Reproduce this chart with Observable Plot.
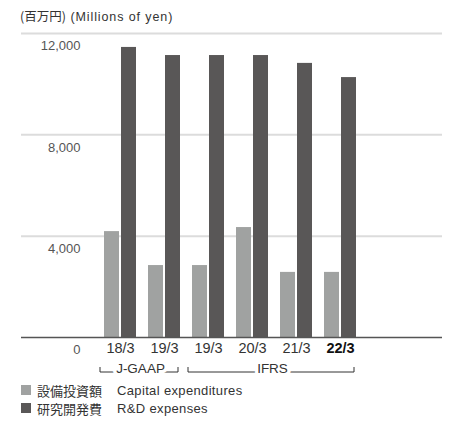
<!DOCTYPE html>
<html><head><meta charset="utf-8">
<script src="https://cdn.jsdelivr.net/npm/d3@7"></script>
<script src="https://cdn.jsdelivr.net/npm/@observablehq/plot@0.6"></script>
<style>
body{margin:0;background:#fff;font-family:"Liberation Sans","Noto Sans CJK JP",sans-serif;color:#333}
#title{height:26px;line-height:31px;padding-left:20px;white-space:nowrap}
#title .tj{font-family:"Noto Sans CJK JP",sans-serif;font-size:12.5px}
#title .te{font-size:12.5px;letter-spacing:0.9px}
#chart svg{display:block}
.row{height:18px;font-size:13px;padding-left:21px;display:flex;align-items:center;white-space:nowrap}
.sw{width:10px;height:10px;margin-right:6px;flex:none}
.jp{width:80px;font-family:"Noto Sans CJK JP",sans-serif}
.en{letter-spacing:0.35px}
</style></head><body>
<div id="title"><span class="tj">(百万円)</span> <span class="te">(Millions of yen)</span></div>
<div id="chart"></div>
<div id="legend"></div>
<script>
// ---- data ----
const keys = ["18/3 J-GAAP", "19/3 J-GAAP", "19/3 IFRS", "20/3 IFRS", "21/3 IFRS", "22/3 IFRS"];
const tickLabels = ["18/3", "19/3", "19/3", "20/3", "21/3", "22/3"];
const capex = [4180, 2840, 2840, 4340, 2570, 2570];
const rnd = [11450, 11130, 11130, 11130, 10820, 10260];
const yTicks = [0, 4000, 8000, 12000];
const seriesJa = ["設備投資額", "研究開発費"];
const seriesEn = ["Capital expenditures", "R&D expenses"];
const seriesColors = ["#a0a2a1", "#595757"];
const standardNames = ["J-GAAP", "IFRS"];
const standardFrom = ["18/3 J-GAAP", "19/3 IFRS"];
const standardTo = ["19/3 J-GAAP", "22/3 IFRS"];

// ---- tables built from arrays ----
const table = keys.map((k, i) => ({key: k, label: tickLabels[i], capex: capex[i], rnd: rnd[i]}));
const standards = standardNames.map((n, i) => {
  const a = keys.indexOf(standardFrom[i]), b = keys.indexOf(standardTo[i]);
  const mid = (a + b) / 2;
  return {name: n, from: standardFrom[i], to: standardTo[i], anchor: keys[Math.floor(mid)]};
});

const xRange = [98, 362];
const step = (xRange[1] - xRange[0]) / keys.length;
const labelFont = "Liberation Sans, Noto Sans CJK JP, sans-serif";

const chart = Plot.plot({
  width: 458,
  height: 355,
  marginLeft: 21,
  marginRight: 16,
  marginTop: 7,
  marginBottom: 44,
  style: {fontFamily: labelFont, background: "white"},
  x: {domain: keys, range: xRange, padding: 0, axis: null},
  y: {domain: [0, 12000], axis: null},
  marks: [
    Plot.ruleY(yTicks.filter(d => d > 0), {stroke: "#dcdcdc", strokeWidth: 2}),
    Plot.barY(table, {x: "key", y: "capex", fill: seriesColors[0], insetLeft: 6, insetRight: 23}),
    Plot.barY(table, {x: "key", y: "rnd", fill: seriesColors[1], insetLeft: 23, insetRight: 6}),
    Plot.ruleY([0], {stroke: "#555", strokeWidth: 1.6}),
    Plot.text(yTicks, {y: d => d, frameAnchor: "left", dx: 59, dy: 12.5, textAnchor: "end",
      text: d => d3.format(",")(d), fill: "#555", fontSize: 13, letterSpacing: "0.8px"}),
    Plot.text(table.slice(0, -1), {x: "key", frameAnchor: "bottom", dy: 15, text: "label", fill: "#333", fontSize: 14.5}),
    Plot.text(table.slice(-1), {x: "key", frameAnchor: "bottom", dy: 15, text: "label", fill: "#111", fontSize: 14.5, fontWeight: "bold"}),
    Plot.text(standards, {x: "anchor", dx: step / 2 - 2, frameAnchor: "bottom", dy: 35, text: "name",
      fill: "#333", fontSize: 13.5, letterSpacing: "0.5px", stroke: "white", strokeWidth: 7, paintOrder: "stroke"})
  ]
});
document.getElementById("chart").appendChild(chart);

// bracket lines for accounting standards, positioned through Plot's own scales
const xs = chart.scale("x"), ys = chart.scale("y");
const yb = ys.apply(0) + 35;
const svg = d3.select(chart);
standards.forEach(s => {
  const x1 = xs.apply(s.from) + 2;
  const x2 = xs.apply(s.to) + xs.bandwidth - 8;
  svg.insert("path", ":first-child")
    .attr("d", `M${x1},${yb - 5}V${yb}H${x2}V${yb - 5}`)
    .attr("fill", "none").attr("stroke", "#333").attr("stroke-width", 1);
});

// legend
const legend = document.getElementById("legend");
seriesJa.forEach((ja, i) => {
  const row = document.createElement("div");
  row.className = "row";
  row.innerHTML = `<span class="sw" style="background:${seriesColors[i]}"></span><span class="jp"></span><span class="en"></span>`;
  row.querySelector(".jp").textContent = ja;
  row.querySelector(".en").textContent = seriesEn[i];
  legend.appendChild(row);
});
</script>
</body></html>
